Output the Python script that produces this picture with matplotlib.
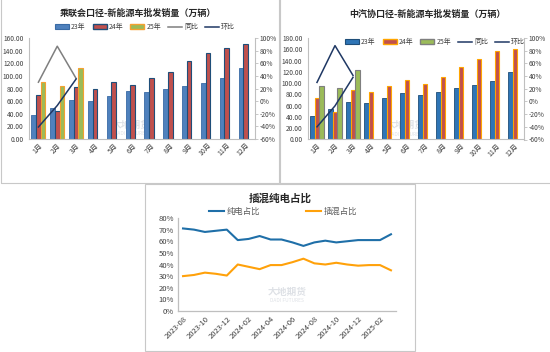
import matplotlib
matplotlib.use("Agg")
import matplotlib.pyplot as plt
from matplotlib.patches import Patch, Rectangle
from matplotlib.lines import Line2D

plt.rcParams['font.family'] = ['Noto Sans CJK SC', 'DejaVu Sans']
plt.rcParams['axes.unicode_minus'] = False

months = ['1月', '2月', '3月', '4月', '5月', '6月', '7月', '8月', '9月', '10月', '11月', '12月']

# 乘联会口径 (万辆)
cpca_23 = [38, 49, 62, 60, 68, 76, 74, 80, 84, 89, 96, 112]
cpca_24 = [69, 45, 83, 80, 91, 86, 96, 106, 124, 137, 144, 151]
cpca_25 = [90, 84, 113]
cpca_yoy = [0.30, 0.87, 0.36]
cpca_mom = [-0.41, -0.07, 0.35]

# 中汽协口径 (万辆)
caam_23 = [41, 54, 66, 65, 73, 82, 79, 85, 91, 96, 103, 120]
caam_24 = [73, 48, 88, 85, 95, 105, 99, 110, 129, 143, 157, 160]
caam_25 = [95, 91, 124]
caam_yoy = [0.30, 0.88, 0.41]
caam_mom = [-0.40, -0.07, 0.38]

# 插混/纯电占比
share_months = ['2023-08', '2023-09', '2023-10', '2023-11', '2023-12', '2024-01', '2024-02',
                '2024-03', '2024-04', '2024-05', '2024-06', '2024-07', '2024-08', '2024-09',
                '2024-10', '2024-11', '2024-12', '2025-01', '2025-02', '2025-03']
bev_share = [0.71, 0.70, 0.68, 0.69, 0.70, 0.61, 0.62, 0.645, 0.615, 0.615, 0.59, 0.56,
             0.59, 0.605, 0.59, 0.60, 0.61, 0.61, 0.61, 0.66]
phev_share = [0.30, 0.31, 0.33, 0.32, 0.305, 0.40, 0.38, 0.36, 0.395, 0.395, 0.42, 0.45,
              0.41, 0.40, 0.415, 0.40, 0.39, 0.395, 0.395, 0.35]

W, H = 550, 352
fig = plt.figure(figsize=(W / 100, H / 100), dpi=100)
fig.patch.set_facecolor('white')


def px_axes(x0, y0, x1, y1):
    return fig.add_axes([x0 / W, 1 - y1 / H, (x1 - x0) / W, (y1 - y0) / H])


def px_box(x0, y0, x1, y1):
    fig.add_artist(Rectangle((x0 / W, 1 - y1 / H), (x1 - x0) / W, (y1 - y0) / H,
                             transform=fig.transFigure, fill=False,
                             edgecolor='#C8C8C8', lw=0.8))


def watermark(ax, x, y):
    ax.text(x, y, '大地期货', transform=ax.transAxes, fontsize=7, color='#C9CED6',
            alpha=0.6, ha='center', va='center', zorder=0.5, fontweight='bold')
    ax.text(x, y - 0.09, 'DADI FUTURES', transform=ax.transAxes, fontsize=3.5,
            color='#C9CED6', alpha=0.6, ha='center', va='center', zorder=0.5)


def bar_panel(box, ymax, yticks, s23, s24, s25, yoy, mom, colors, title, title_xy,
              legend_xy, yoy_color):
    ax = px_axes(*box)
    x = list(range(len(months)))
    w = 0.25
    c23, e23, c24, e24, c25, e25 = colors
    ax.bar([i - w for i in x], s23, w, color=c23, edgecolor=e23, lw=0.6, zorder=2)
    ax.bar(x, s24, w, color=c24, edgecolor=e24, lw=0.8, zorder=2)
    ax.bar([i + w for i in range(len(s25))], s25, w, color=c25, edgecolor=e25, lw=0.8, zorder=2)
    ax.set_xlim(-0.5, 11.5)
    ax.set_ylim(0, ymax)
    ax.set_yticks(yticks)
    ax.set_yticklabels([f'{v:.2f}' for v in yticks], fontsize=4.8, color='#404040')
    ax.set_xticks(x)
    ax.set_xticklabels(months, fontsize=5, rotation=45, ha='right', rotation_mode='anchor',
                       color='#404040')
    ax.tick_params(axis='both', length=0, pad=2)
    ax.tick_params(axis='y', pad=4)
    for s in ['top', 'right']:
        ax.spines[s].set_visible(False)
    for s in ['left', 'bottom']:
        ax.spines[s].set_color('#BFBFBF')
        ax.spines[s].set_linewidth(0.8)
    watermark(ax, 0.45, 0.14)

    ax2 = ax.twinx()
    ax2.plot(range(len(yoy)), yoy, color=yoy_color, lw=1.1, zorder=3)
    ax2.plot(range(len(mom)), mom, color='#1F3864', lw=1.1, zorder=3)
    ax2.set_ylim(-0.6, 1.0)
    pct = [-0.6, -0.4, -0.2, 0, 0.2, 0.4, 0.6, 0.8, 1.0]
    ax2.set_yticks(pct)
    ax2.set_yticklabels([f'{round(v * 100)}%' for v in pct], fontsize=4.8, color='#404040')
    ax2.tick_params(axis='y', length=2, width=0.6, color='#BFBFBF', pad=1.5)
    for s in ['top', 'left', 'bottom']:
        ax2.spines[s].set_visible(False)
    ax2.spines['right'].set_color('#BFBFBF')
    ax2.spines['right'].set_linewidth(0.8)

    fig.text(title_xy[0] / W, 1 - title_xy[1] / H, title, fontsize=6.5, fontweight='bold',
             ha='center', va='center', color='#262626')
    handles = [Patch(facecolor=c23, edgecolor=e23, lw=0.8),
               Patch(facecolor=c24, edgecolor=e24, lw=1.0),
               Patch(facecolor=c25, edgecolor=e25, lw=1.0),
               Line2D([], [], color=yoy_color, lw=1.1),
               Line2D([], [], color='#1F3864', lw=1.1)]
    fig.legend(handles, ['23年', '24年', '25年', '同比', '环比'], ncol=5, frameon=False,
               loc='center', bbox_to_anchor=(legend_xy[0] / W, 1 - legend_xy[1] / H),
               fontsize=5, handlelength=2.0, handleheight=0.6, handletextpad=0.3,
               columnspacing=1.0, labelcolor='#404040')


# panel borders
px_box(1, -2, 279, 183)
px_box(280, -2, 552, 183)
px_box(145, 184, 415, 351)

bar_panel((29, 38, 255, 139), 160, list(range(0, 161, 20)),
          cpca_23, cpca_24, cpca_25, cpca_yoy, cpca_mom,
          ('#4F81BD', '#3A6BA5', '#C0504D', '#1F4E79', '#9BBB59', '#F5A030'),
          '乘联会口径-新能源车批发销量（万辆）', (138, 13), (145, 27), '#7F7F7F')

bar_panel((308, 38, 524, 139.5), 180, list(range(0, 181, 20)),
          caam_23, caam_24, caam_25, caam_yoy, caam_mom,
          ('#2E75B6', '#1F4E79', '#C0504D', '#FFA500', '#9BBB59', '#7F7F7F'),
          '中汽协口径-新能源车批发销量（万辆）', (427, 14), (435, 42), '#1F3864')

# share chart
ax = px_axes(178, 218, 396, 311)
xs = list(range(len(share_months)))
ax.plot(xs, bev_share, color='#1F6FA8', lw=1.5, label='纯电占比', zorder=3)
ax.plot(xs, phev_share, color='#FFA10A', lw=1.5, label='插混占比', zorder=3)
ax.set_xlim(-0.46, len(xs) - 1 + 0.46)
ax.set_ylim(0, 0.8)
yt = [0, 0.1, 0.2, 0.3, 0.4, 0.5, 0.6, 0.7, 0.8]
ax.set_yticks(yt)
ax.set_yticklabels([f'{round(v * 100)}%' for v in yt], fontsize=5.5, color='#404040')
ax.set_xticks(xs[::2])
ax.set_xticklabels(share_months[::2], fontsize=5.5, rotation=45, ha='right',
                   rotation_mode='anchor', color='#404040')
ax.tick_params(axis='both', length=0, pad=3)
for s in ['top', 'right']:
    ax.spines[s].set_visible(False)
for s in ['left', 'bottom']:
    ax.spines[s].set_color('#BFBFBF')
    ax.spines[s].set_linewidth(0.9)
watermark(ax, 0.5, 0.2)
fig.text(280 / W, 1 - 198 / H, '插混纯电占比', fontsize=7.6, fontweight='bold',
         ha='center', va='center', color='#262626')
fig.legend(*ax.get_legend_handles_labels(), ncol=2, frameon=False, loc='center',
           bbox_to_anchor=(283 / W, 1 - 211 / H), fontsize=6, handlelength=1.8,
           handletextpad=0.3, columnspacing=5.5, labelcolor='#595959')

fig.savefig('out.png', dpi=100, facecolor='white')
